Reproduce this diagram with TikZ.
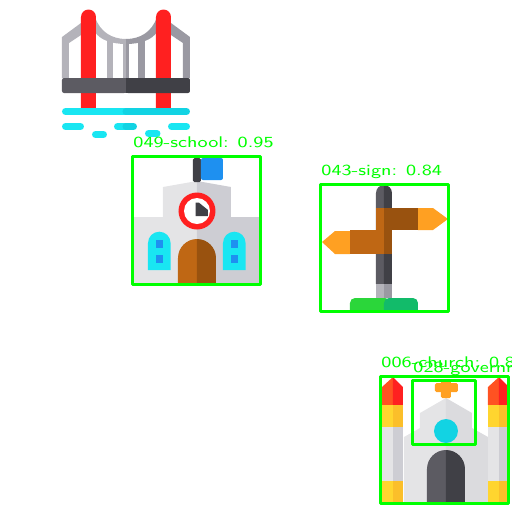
\documentclass[tikz,border=0pt]{standalone}
\usepackage{tikz}
\definecolor{boxgreen}{HTML}{00FF00}
\definecolor{tower}{HTML}{FF2020}
\definecolor{towerb}{HTML}{FF5222}
\definecolor{cable}{HTML}{B4B3BA}
\definecolor{cableb}{HTML}{9A99A2}
\definecolor{dark}{HTML}{5C5B62}
\definecolor{darkb}{HTML}{404046}
\definecolor{water}{HTML}{19E6F2}
\definecolor{waterb}{HTML}{12D3E3}
\definecolor{wall}{HTML}{E4E4E6}
\definecolor{wallb}{HTML}{CDCDD3}
\definecolor{wood}{HTML}{BF6714}
\definecolor{woodb}{HTML}{99520F}
\definecolor{flag}{HTML}{1E90F0}
\definecolor{arrowhead}{HTML}{FFA022}
\definecolor{sun}{HTML}{FFD52F}
\definecolor{sunb}{HTML}{FBBF2A}
\definecolor{grass}{HTML}{2BD63A}
\definecolor{grassb}{HTML}{12BB6A}
\tikzset{font={\fontsize{8.8pt}{10}\selectfont\sffamily}}
\begin{document}
\begin{tikzpicture}[x=.02cm,y=-.02cm,
detbox/.style={draw=boxgreen,line width=.06cm,line join=round},
dettext/.style={text=boxgreen,anchor=base west,inner sep=0pt,xscale=1.27},
bar/.style={line width=#1*.02cm,line cap=round}
]
\useasboundingbox (0,0) rectangle (512,512);
\clip (0,0) rectangle (512,512);

%bridge
\fill[cable] (62,78) -- (62,37) -- (81,23) -- (81,35) -- (69,43) -- (69,78) -- cycle;
\fill[cableb] (190,78) -- (190,37) -- (171,23) -- (171,35) -- (183,43) -- (183,78) -- cycle;
\fill[cable] (95,17) .. controls (100,32) and (112,39) .. (126,39) -- (126,44) .. controls (112,44) and (100,40) .. (95,32) -- cycle;
\fill[cableb] (157,17) .. controls (152,32) and (140,39) .. (126,39) -- (126,44) .. controls (140,44) and (152,40) .. (157,32) -- cycle;
\fill[cable] (107,38) rectangle (113,78);
\fill[cable] (123,40) rectangle (126,78);
\fill[cableb] (126,40) rectangle (129,78);
\fill[cableb] (138,38) rectangle (145,78);
\foreach \x in {81,156}{
\fill[tower] (\x,108) -- (\x,17) arc[start angle=180,end angle=360,radius=7.5] -- (\x+15,108) -- cycle;
}
\fill[dark,rounded corners=.04cm] (62,78) -- (62,93) -- (126,93) -- (126,78) -- cycle;
\fill[darkb,rounded corners=.04cm] (126,78) -- (126,93) -- (190,93) -- (190,78) -- cycle;
\fill[dark] (120,78) rectangle (126,93);
\fill[darkb] (126,78) rectangle (132,93);
\draw[water,bar=7] (65.5,111.5) -- (126,111.5);
\draw[waterb,bar=7] (126,111.5) -- (186.5,111.5);
\foreach \xa/\xb/\y in {65.5/80.5/126.5,95.5/103.5/134.5,117.5/126/126.5,148.5/157/133.5,171.5/186.5/126.5}{
\draw[water,bar=7] (\xa,\y) -- (\xb,\y);
}
\draw[waterb,bar=7] (126,126.5) -- (133.5,126.5);

%school
\fill[wall] (134,284) -- (134,217) -- (163,217) -- (163,187) -- (197,181) -- (197,284) -- cycle;
\fill[wallb] (259,284) -- (259,217) -- (231,217) -- (231,187) -- (197,181) -- (197,284) -- cycle;
\fill[darkb,rounded corners=.03cm] (193,158) rectangle (201,182);
\fill[flag,rounded corners=.04cm] (201,158) rectangle (223,180);
\fill[tower] (197,211) circle (18.5);
\fill[white] (197,211) circle (13);
\fill[darkb] (195.7,202.7) -- (199,202.7) -- (208,210) -- (208,216) -- (195.7,216) -- cycle;
\foreach \x in {148,223}{
\fill[water] (\x,270) -- (\x,243) arc[start angle=180,end angle=270,radius=11.3] arc[start angle=270,end angle=360,radius=11.3] -- (\x+22.6,270) -- cycle;
\foreach \y in {240,255}{
\fill[flag] (\x+7.6,\y) rectangle (\x+15,\y+8);
}
}
\fill[wood] (178,284) -- (178,258) arc[start angle=180,end angle=270,radius=19] -- (197,284) -- cycle;
\fill[woodb] (216,284) -- (216,258) arc[start angle=360,end angle=270,radius=19] -- (197,284) -- cycle;

%sign
\fill[dark] (376,284) -- (376,193) arc[start angle=180,end angle=270,radius=8] -- (384,284) -- cycle;
\fill[darkb] (392,284) -- (392,193) arc[start angle=360,end angle=270,radius=8] -- (384,284) -- cycle;
\fill[cable] (376,284) rectangle (384,298);
\fill[cableb] (384,284) rectangle (392,298);
\fill[arrowhead] (418,208) -- (433,208) -- (448,219) -- (433,230) -- (418,230) -- cycle;
\fill[arrowhead] (350,231) -- (335,231) -- (322,242) -- (335,254) -- (350,254) -- cycle;
\fill[woodb] (384,208) rectangle (418,230);
\fill[wood] (376,208) rectangle (384,254);
\fill[wood] (350,230) rectangle (384,254);
\fill[woodb] (384,230) rectangle (392,254);
\fill[grass,rounded corners=.1cm] (350,318) -- (350,298) -- (390,298) -- (390,318) -- cycle;
\fill[grassb,rounded corners=.1cm] (418,318) -- (418,298) -- (384,298) -- (384,318) -- cycle;
\fill[white] (340,312.5) rectangle (430,320);

%church
\fill[wall] (404,503) -- (404,437) -- (420,428) -- (420,413) -- (446,398) -- (446,503) -- cycle;
\fill[wall!60!wallb] (488,503) -- (488,437) -- (472,428) -- (472,413) -- (446,398) -- (446,503) -- cycle;
\foreach \x in {382,488}{
\fill[towerb] (\x,405) -- (\x,387) -- (\x+11,377) -- (\x+11,405) -- cycle;
\fill[tower] (\x+21,405) -- (\x+21,387) -- (\x+11,377) -- (\x+11,405) -- cycle;
\fill[sun] (\x,405) rectangle (\x+11,427);
\fill[sunb] (\x+11,405) rectangle (\x+21,427);
\fill[wall] (\x,427) rectangle (\x+11,481);
\fill[wallb] (\x+11,427) rectangle (\x+21,481);
\fill[sun] (\x,481) rectangle (\x+11,503);
\fill[sunb] (\x+11,481) rectangle (\x+21,503);
}
\fill[arrowhead,rounded corners=.03cm] (441,379) rectangle (451,398);
\fill[arrowhead,rounded corners=.03cm] (435,383) rectangle (458,392);
\fill[waterb] (446,431) circle (12);
\fill[dark] (427,503) -- (427,469) arc[start angle=180,end angle=270,radius=19] -- (446,503) -- cycle;
\fill[darkb] (465,503) -- (465,469) arc[start angle=360,end angle=270,radius=19] -- (446,503) -- cycle;

%detections
\draw[detbox] (133,156.5) rectangle (260.5,284);
\draw[detbox] (320.7,184.8) rectangle (448.3,311.5);
\draw[detbox] (380.7,376.8) rectangle (508.5,503.5);
\draw[detbox] (412.6,380.7) rectangle (476,444.7);
\node[dettext] (schooltext) at (133,147) {049-school: 0.95};
\node[dettext] (signtext) at (321,175) {043-sign: 0.84};
\node[dettext] (churchtext) at (381,367) {006-church: 0.8};
\node[dettext] (govtext) at (413,372) {028-governm};
\end{tikzpicture}
\end{document}
